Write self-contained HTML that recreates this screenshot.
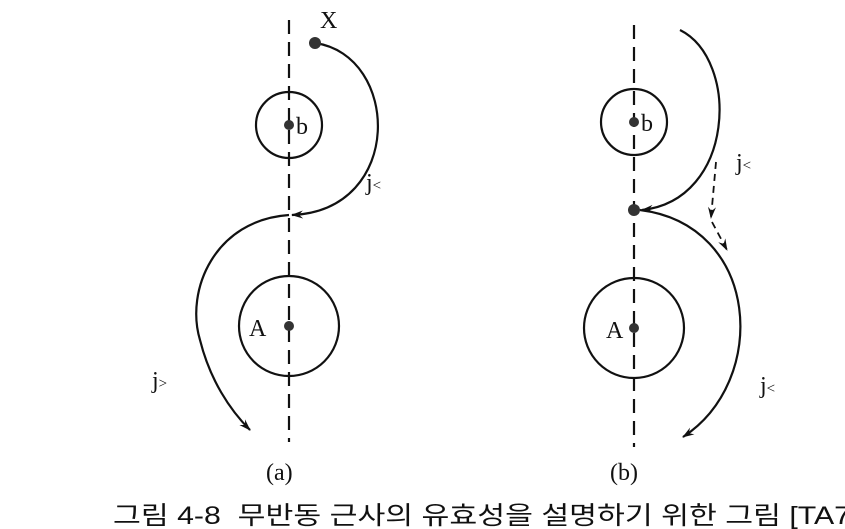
<!DOCTYPE html>
<html><head><meta charset="utf-8"><style>
html,body{margin:0;padding:0;background:#fff;}
svg{display:block;}
text{font-family:"Liberation Serif","Noto Serif CJK SC",serif;fill:#111;}
</style></head><body>
<svg width="845" height="529" viewBox="0 0 845 529" xmlns="http://www.w3.org/2000/svg">
<defs>
<marker id="ar" markerWidth="12" markerHeight="10" refX="11" refY="5" orient="auto" markerUnits="userSpaceOnUse">
<path d="M0,1 L12,5 L0,9 L4,5 Z" fill="#111"/></marker>
</defs>
<g stroke="#111" stroke-width="2.2" fill="none">
<line x1="289" y1="20" x2="289" y2="442" stroke-dasharray="14,8"/>
<circle cx="289" cy="125" r="33"/>
<circle cx="289" cy="326" r="50"/>
<path d="M315,43 C400,55 405,210 292,215" marker-end="url(#ar)"/>
<path d="M289,215 C215,220 185,290 200,340 C210,380 230,410 250,430" marker-end="url(#ar)"/>
<line x1="634" y1="25" x2="634" y2="447" stroke-dasharray="14,8"/>
<circle cx="634" cy="122" r="33"/>
<circle cx="634" cy="328" r="50"/>
<path d="M680,30 C740,60 735,200 642,210" marker-end="url(#ar)"/>
<path d="M640,210 C760,225 770,380 683,437" marker-end="url(#ar)"/>
<path d="M716,162 L711,218" stroke-dasharray="7,5" stroke-width="1.8" marker-end="url(#ar)"/>
<path d="M712,222 L727,250" stroke-dasharray="7,5" stroke-width="1.8" marker-end="url(#ar)"/>
</g>
<g fill="#333">
<circle cx="315" cy="43" r="6"/>
<circle cx="289" cy="125" r="5"/>
<circle cx="289" cy="326" r="5"/>
<circle cx="634" cy="122" r="5"/>
<circle cx="634" cy="328" r="5"/>
<circle cx="634" cy="210" r="6"/>
</g>
<g font-size="24">
<text x="320" y="28">X</text>
<text x="296" y="134">b</text>
<text x="249" y="336">A</text>
<text x="641" y="131">b</text>
<text x="606" y="338">A</text>
<text x="366" y="190">j<tspan font-size="15">&lt;</tspan></text>
<text x="152" y="388">j<tspan font-size="15">&gt;</tspan></text>
<text x="736" y="170">j<tspan font-size="15">&lt;</tspan></text>
<text x="760" y="393">j<tspan font-size="15">&lt;</tspan></text>
<text x="266" y="480">(a)</text>
<text x="610" y="480">(b)</text>
</g>
<text x="113" y="524" font-size="25" textLength="738" lengthAdjust="spacingAndGlyphs" style="font-family:'Liberation Sans','Noto Sans CJK KR',sans-serif" xml:space="preserve">그림 4-8  무반동 근사의 유효성을 설명하기 위한 그림 [TA7</text>
</svg>
</body></html>
